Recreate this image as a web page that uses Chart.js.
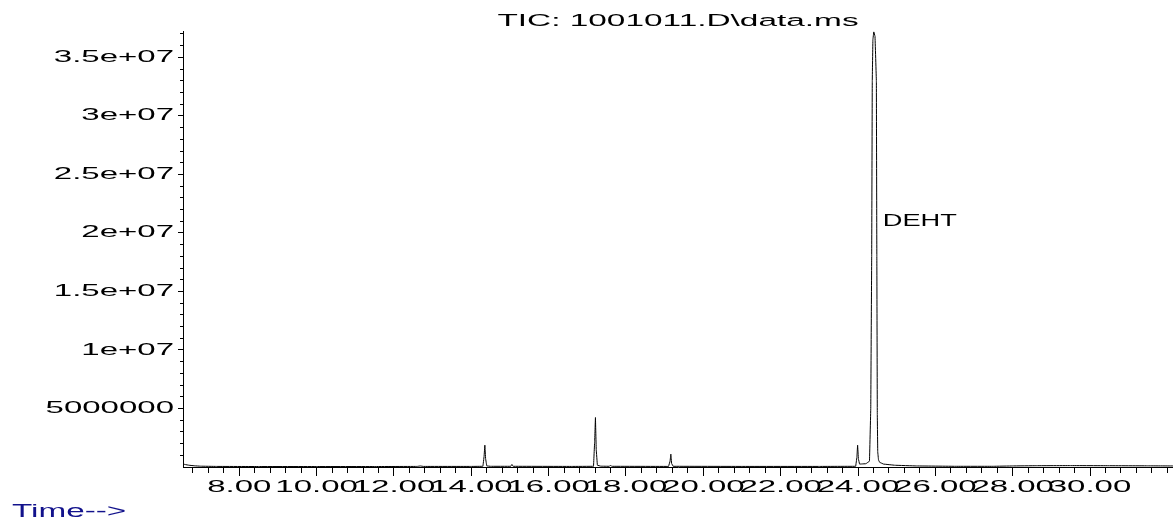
<!DOCTYPE html>
<html>
<head>
<meta charset="utf-8">
<title>TIC: 1001011.D\data.ms</title>
<script src="https://cdn.jsdelivr.net/npm/chart.js@4.4.1/dist/chart.umd.min.js"></script>
<style>
    html, body { margin: 0; padding: 0; background: #ffffff; }
    canvas { display: block; }
</style>
</head>
<body>
<canvas id="chartTic" width="1173" height="521"></canvas>
<script>
// ============================================
// TIC chromatogram - 1001011.D
// ============================================

// Trace vertices: retention time (min) / abundance (counts)
const retentionTimes = [
    6.544, 6.60, 6.70, 6.85, 7.00, 7.40, 8.50, 10.00, 11.50,
    12.60, 12.68, 12.76, 14.00,
    14.30, 14.33, 14.35, 14.37, 14.40, 14.50,
    15.02, 15.05, 15.08, 16.60,
    17.16, 17.19, 17.21, 17.23, 17.26, 17.35,
    17.57, 17.60, 17.63,
    19.10, 19.14, 19.16, 19.18, 19.22, 21.00, 23.00,
    23.94, 23.97, 23.99, 24.01, 24.04, 24.10,
    24.206, 24.297, 24.330, 24.354, 24.369, 24.385, 24.408, 24.440, 24.475, 24.487, 24.499,
    24.51, 24.53, 24.56, 24.66, 24.95, 25.50,
    26.50, 27.50, 28.00, 28.60, 29.50, 30.50, 31.50, 32.146
];
const abundances = [
    260000, 210000, 150000, 100000, 70000, 50000, 40000, 40000, 40000,
    50000, 90000, 50000, 50000,
    60000, 900000, 1870000, 700000, 90000, 60000,
    60000, 220000, 60000, 50000,
    60000, 2200000, 4230000, 1500000, 150000, 70000,
    60000, 160000, 60000,
    50000, 500000, 1100000, 300000, 60000, 50000, 50000,
    60000, 800000, 1870000, 700000, 250000, 260000,
    280000, 500000, 5000000, 18000000, 33000000, 36500000, 37200000, 36800000, 33000000, 18000000, 4500000,
    1300000, 600000, 400000, 250000, 150000, 90000,
    60000, 60000, 90000, 110000, 120000, 110000, 100000, 90000
];

// Named peaks
const peakNames = ['DEHT'];
const peakTimes = [24.408];

// Axes
const timeMin = 6.544;
const timeMax = 32.146;
const abundanceMax = 37200000;
const timeMajorTicks = [8, 10, 12, 14, 16, 18, 20, 22, 24, 26, 28, 30];
const timeTickLabels = ['8.00', '10.00', '12.00', '14.00', '16.00', '18.00', '20.00', '22.00', '24.00', '26.00', '28.00', '30.00'];
const abundanceMajorTicks = [5000000, 10000000, 15000000, 20000000, 25000000, 30000000, 35000000];
const abundanceTickLabels = ['5000000', '1e+07', '1.5e+07', '2e+07', '2.5e+07', '3e+07', '3.5e+07'];

const FONT = "'Liberation Sans', Arial, sans-serif";

const canvas = document.getElementById('chartTic');
const ctx = canvas.getContext('2d');

// ChemStation prints its text wide: stretch glyphs horizontally
let textStretch = 2.0;
const fillTextPlain = ctx.fillText.bind(ctx);
const measureTextPlain = ctx.measureText.bind(ctx);
ctx.fillText = function (text, x, y) {
    this.save();
    this.translate(x, y);
    this.scale(textStretch, 1);
    fillTextPlain(text, 0, 0);
    this.restore();
};
ctx.measureText = function (text) {
    const m = measureTextPlain(text);
    return {
        width: m.width * textStretch,
        actualBoundingBoxAscent: m.actualBoundingBoxAscent,
        actualBoundingBoxDescent: m.actualBoundingBoxDescent
    };
};

const findMajor = (list, v, eps) => list.findIndex(t => Math.abs(t - v) < eps);

// Peak names and the axis caption
const tagsPlugin = {
    id: 'tags',
    afterDraw(chart) {
        const c = chart.ctx;
        const { x, y } = chart.scales;
        c.save();
        c.fillStyle = '#000000';
        c.textAlign = 'left';
        c.textBaseline = 'middle';
        c.font = '16.5px ' + FONT;
        textStretch = 1.65;
        peakNames.forEach((name, i) => {
            c.fillText(name, x.getPixelForValue(peakTimes[i]) + 9, y.getPixelForValue(21000000));
        });

        c.fillStyle = '#12128c';
        c.textBaseline = 'alphabetic';
        c.font = '17.5px ' + FONT;
        textStretch = 1.9;
        c.fillText('Time-->', 12, 517);
        c.restore();
        textStretch = 2.0;
    }
};

const chartTic = new Chart(canvas, {
    type: 'line',
    data: {
        datasets: [{
            label: 'TIC',
            data: retentionTimes.map((t, i) => ({ x: t, y: abundances[i] })),
            borderColor: '#000000',
            borderWidth: 1,
            borderJoinStyle: 'round',
            pointRadius: 0,
            // a tiny tension keeps every vertex (the straight fast path merges points sharing a pixel column)
            tension: 0.001,
            fill: false
        }]
    },
    options: {
        responsive: false,
        animation: false,
        devicePixelRatio: 1,
        layout: { padding: 0 },
        plugins: {
            legend: { display: false },
            tooltip: { enabled: false },
            title: {
                display: true,
                text: 'TIC: 1001011.D\\data.ms',
                color: '#000000',
                fullSize: false,
                font: { family: FONT, size: 16.7, weight: 'normal' },
                padding: { top: 11.5, bottom: 0.1 }
            }
        },
        scales: {
            x: {
                type: 'linear',
                min: timeMin,
                max: timeMax,
                afterFit: s => { s.height = 54; },
                afterBuildTicks: s => {
                    const ticks = [];
                    for (let k = 17; k <= 80; k++) ticks.push({ value: Math.round(k * 4) / 10 });
                    s.ticks = ticks;
                },
                border: { display: true, color: '#000000', width: 1 },
                grid: {
                    drawOnChartArea: false,
                    drawTicks: true,
                    tickLength: 9,
                    tickColor: '#000000',
                    tickWidth: 1,
                    tickBorderDash: c => findMajor(timeMajorTicks, c.tick.value, 1e-6) >= 0 ? [] : [5, 100]
                },
                ticks: {
                    autoSkip: false,
                    maxRotation: 0,
                    minRotation: 0,
                    padding: 1.5,
                    color: '#000000',
                    font: { family: FONT, size: 16.5 },
                    callback: v => {
                        const i = findMajor(timeMajorTicks, v, 1e-6);
                        return i >= 0 ? timeTickLabels[i] : '';
                    }
                }
            },
            y: {
                type: 'linear',
                min: 0,
                max: abundanceMax,
                afterFit: s => { s.width = 183; },
                afterBuildTicks: s => {
                    const ticks = [];
                    for (let k = 1; k <= 37; k++) ticks.push({ value: k * 1000000 });
                    s.ticks = ticks;
                },
                border: { display: true, color: '#000000', width: 1 },
                grid: {
                    drawOnChartArea: false,
                    drawTicks: true,
                    tickLength: 5,
                    tickColor: '#000000',
                    tickWidth: 1,
                    tickBorderDash: c => findMajor(abundanceMajorTicks, c.tick.value, 1) >= 0 ? [] : [0, 2, 3, 100]
                },
                ticks: {
                    autoSkip: false,
                    padding: 4,
                    color: '#000000',
                    font: { family: FONT, size: 16.5 },
                    callback: v => {
                        const i = findMajor(abundanceMajorTicks, v, 1);
                        return i >= 0 ? abundanceTickLabels[i] : '';
                    }
                }
            }
        }
    },
    plugins: [tagsPlugin]
});
</script>
</body>
</html>
